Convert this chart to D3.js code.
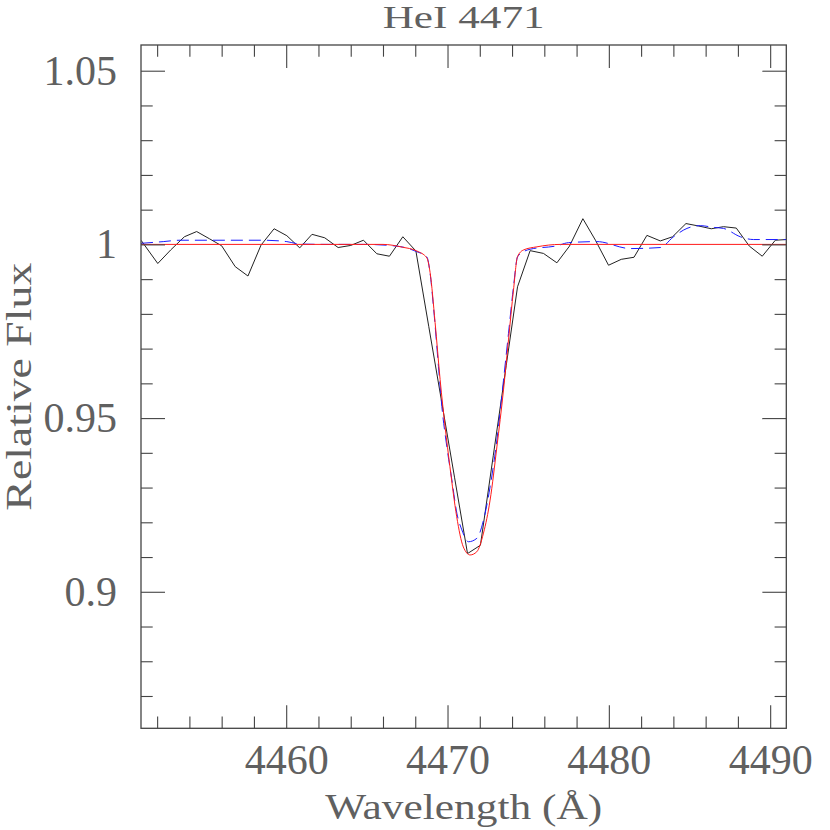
<!DOCTYPE html>
<html>
<head>
<meta charset="utf-8">
<script src="https://cdn.jsdelivr.net/npm/d3@7"></script>
<style>
  body { margin: 0; background: #fff; }
  .axis path { display: none; }
  .axis line { stroke: #444; stroke-width: 1.1; }
  .axis text { font-family: "Liberation Serif", serif; fill: #606060; }
</style>
</head>
<body>
<svg id="chart" width="830" height="830"></svg>
<script>
// observed spectrum (black)
var obsWave = [4451.00, 4452.04, 4452.84, 4453.69, 4454.45, 4455.25, 4456.00, 4456.84, 4457.63, 4458.44,
  4459.25, 4460.04, 4460.84, 4461.60, 4462.39, 4463.22, 4464.00, 4464.79, 4465.62, 4466.40,
  4467.23, 4468.04, 4468.84, 4469.64, 4470.44, 4471.24, 4472.04, 4472.84, 4473.64, 4474.34,
  4475.12, 4475.95, 4476.78, 4477.56, 4478.39, 4479.17, 4479.98, 4480.77, 4481.56, 4482.36,
  4483.19, 4483.95, 4484.78, 4485.56, 4486.35, 4487.11, 4487.90, 4488.71, 4489.51, 4490.32, 4491.02];
var obsFlux = [1.0012, 0.9945, 0.9984, 1.0022, 1.0037, 1.0016, 0.9996, 0.9936, 0.9909, 0.9998,
  1.0045, 1.0025, 0.9990, 1.0029, 1.0019, 0.9991, 0.9997, 1.0012, 0.9973, 0.9966,
  1.0022, 0.9981, 0.9763, 0.9546, 0.9328, 0.9110, 0.9134, 0.9393, 0.9652, 0.9878,
  0.9982, 0.9974, 0.9947, 0.9995, 1.0074, 1.0012, 0.9940, 0.9957, 0.9963, 1.0026,
  1.0010, 1.0022, 1.0060, 1.0053, 1.0045, 1.0051, 1.0047, 0.9995, 0.9966, 1.0012, 1.0014];

// model fit (red)
var redWave = [4451.0, 4466.0, 4467.2, 4468.1, 4468.72, 4468.92, 4469.23, 4469.54, 4469.85, 4470.15,
  4470.57, 4470.98, 4471.40, 4471.81, 4472.23, 4472.64, 4473.06, 4473.47, 4473.78, 4474.09,
  4474.34, 4474.71, 4475.54, 4477.0, 4491.0];
var redFlux = [1.0, 1.0, 0.9992, 0.9981, 0.9961, 0.9919, 0.9775, 0.9611, 0.9475, 0.9360,
  0.9216, 0.9129, 0.9106, 0.9115, 0.9169, 0.9264, 0.9417, 0.9581, 0.9725, 0.9869,
  0.9965, 0.9984, 0.9993, 1.0, 1.0];

// second model (blue dashed)
var blueWave = [4451.0, 4452.38, 4453.42, 4458.58, 4460.04, 4460.86, 4462.72, 4464.79, 4466.86, 4468.10,
  4468.72, 4468.92, 4469.13, 4469.44, 4469.65, 4469.96, 4470.27, 4470.58, 4470.89, 4471.30,
  4471.82, 4472.23, 4472.64, 4473.06, 4473.47, 4473.78, 4474.09, 4474.34, 4474.71, 4475.12,
  4476.78, 4477.50, 4479.26, 4481.33, 4483.19, 4484.01, 4484.84, 4485.67, 4486.49, 4487.11,
  4488.15, 4488.97, 4491.0];
var blueFlux = [1.0003, 1.0008, 1.0012, 1.0012, 1.0008, 1.0001, 1.0, 1.0, 0.9995, 0.9979,
  0.9964, 0.9917, 0.9820, 0.9648, 0.9533, 0.9417, 0.9322, 0.9226, 0.9178, 0.9144,
  0.9154, 0.9206, 0.9302, 0.9437, 0.9609, 0.9744, 0.9878, 0.9964, 0.9979, 0.9986,
  0.9996, 1.0005, 1.0008, 0.9988, 0.9991, 1.0022, 1.0046, 1.0054, 1.0049, 1.0046,
  1.0022, 1.0014, 1.0014];

// ticks
var xMajor = [4460, 4470, 4480, 4490];
var xMinor = [4452, 4454, 4456, 4458, 4462, 4464, 4466, 4468, 4472, 4474, 4476, 4478,
  4482, 4484, 4486, 4488];
var yMajor = [0.9, 0.95, 1.0, 1.05];
var yMinor = [0.87, 0.88, 0.89, 0.91, 0.92, 0.93, 0.94, 0.96, 0.97, 0.98, 0.99,
  1.01, 1.02, 1.03, 1.04];
var yLabels = ["0.9", "0.95", "1", "1.05"];

var dims = { left: 141, right: 786.3, top: 45, bottom: 728.3 };

var svg = d3.select("#chart");

var xScale = d3.scaleLinear().domain([4451, 4491]).range([dims.left, dims.right]);
var yScale = d3.scaleLinear().domain([0.8607, 1.0574]).range([dims.bottom, dims.top]);

svg.append("clipPath").attr("id", "clip")
  .append("rect")
  .attr("x", dims.left).attr("y", dims.top)
  .attr("width", dims.right - dims.left)
  .attr("height", dims.bottom - dims.top);

var zip = function (xs, ys) { return xs.map(function (x, i) { return { w: x, f: ys[i] }; }); };

var plot = svg.append("g").attr("clip-path", "url(#clip)");

var lineStraight = d3.line().x(function (d) { return xScale(d.w); }).y(function (d) { return yScale(d.f); });
var lineSmooth = d3.line().curve(d3.curveMonotoneX)
  .x(function (d) { return xScale(d.w); }).y(function (d) { return yScale(d.f); });

plot.append("path")
  .attr("d", lineStraight(zip(obsWave, obsFlux)))
  .attr("fill", "none").attr("stroke", "#222").attr("stroke-width", 1);

plot.append("path")
  .attr("d", lineSmooth(zip(blueWave, blueFlux)))
  .attr("fill", "none").attr("stroke", "#1a1aff").attr("stroke-width", 1)
  .attr("stroke-dasharray", "12,6");

plot.append("path")
  .attr("d", lineSmooth(zip(redWave, redFlux)))
  .attr("fill", "none").attr("stroke", "#ff1a1a").attr("stroke-width", 1);

// axes, ticks pointing inward on all four sides
function addAxis(axis, tx, ty) {
  svg.append("g").attr("class", "axis")
    .attr("transform", "translate(" + tx + "," + ty + ")")
    .call(axis);
}

addAxis(d3.axisBottom(xScale).tickValues(xMajor).tickSize(-23).tickPadding(16)
  .tickFormat(d3.format("d")), 0, dims.bottom);
addAxis(d3.axisBottom(xScale).tickValues(xMinor).tickSize(-11.7).tickFormat(""), 0, dims.bottom);
addAxis(d3.axisTop(xScale).tickValues(xMajor).tickSize(-23).tickFormat(""), 0, dims.top);
addAxis(d3.axisTop(xScale).tickValues(xMinor).tickSize(-11.7).tickFormat(""), 0, dims.top);

addAxis(d3.axisLeft(yScale).tickValues(yMajor).tickSize(-24).tickPadding(24)
  .tickFormat(function (d, i) { return yLabels[i]; }), dims.left, 0);
addAxis(d3.axisLeft(yScale).tickValues(yMinor).tickSize(-11.7).tickFormat(""), dims.left, 0);
addAxis(d3.axisRight(yScale).tickValues(yMajor).tickSize(-24).tickFormat(""), dims.right, 0);
addAxis(d3.axisRight(yScale).tickValues(yMinor).tickSize(-11.7).tickFormat(""), dims.right, 0);

svg.selectAll(".axis text").attr("font-size", 42);

svg.append("rect")
  .attr("x", dims.left).attr("y", dims.top)
  .attr("width", dims.right - dims.left).attr("height", dims.bottom - dims.top)
  .attr("fill", "none").attr("stroke", "#444").attr("stroke-width", 1.3);

// title and axis labels
var midX = (dims.left + dims.right) / 2;
svg.append("text")
  .text("HeI 4471")
  .attr("x", midX).attr("y", 28)
  .attr("text-anchor", "middle")
  .attr("font-family", "Liberation Serif, serif").attr("font-size", 31).attr("fill", "#606060")
  .attr("textLength", 162).attr("lengthAdjust", "spacingAndGlyphs");

svg.append("text")
  .text("Wavelength (Å)")
  .attr("x", midX).attr("y", 819)
  .attr("text-anchor", "middle")
  .attr("font-family", "Liberation Serif, serif").attr("font-size", 36).attr("fill", "#606060")
  .attr("textLength", 277).attr("lengthAdjust", "spacingAndGlyphs");

svg.append("text")
  .text("Relative Flux")
  .attr("transform", "translate(31," + (dims.top + dims.bottom) / 2 + ") rotate(-90)")
  .attr("text-anchor", "middle")
  .attr("font-family", "Liberation Serif, serif").attr("font-size", 36).attr("fill", "#606060")
  .attr("textLength", 248).attr("lengthAdjust", "spacingAndGlyphs");
</script>
</body>
</html>
